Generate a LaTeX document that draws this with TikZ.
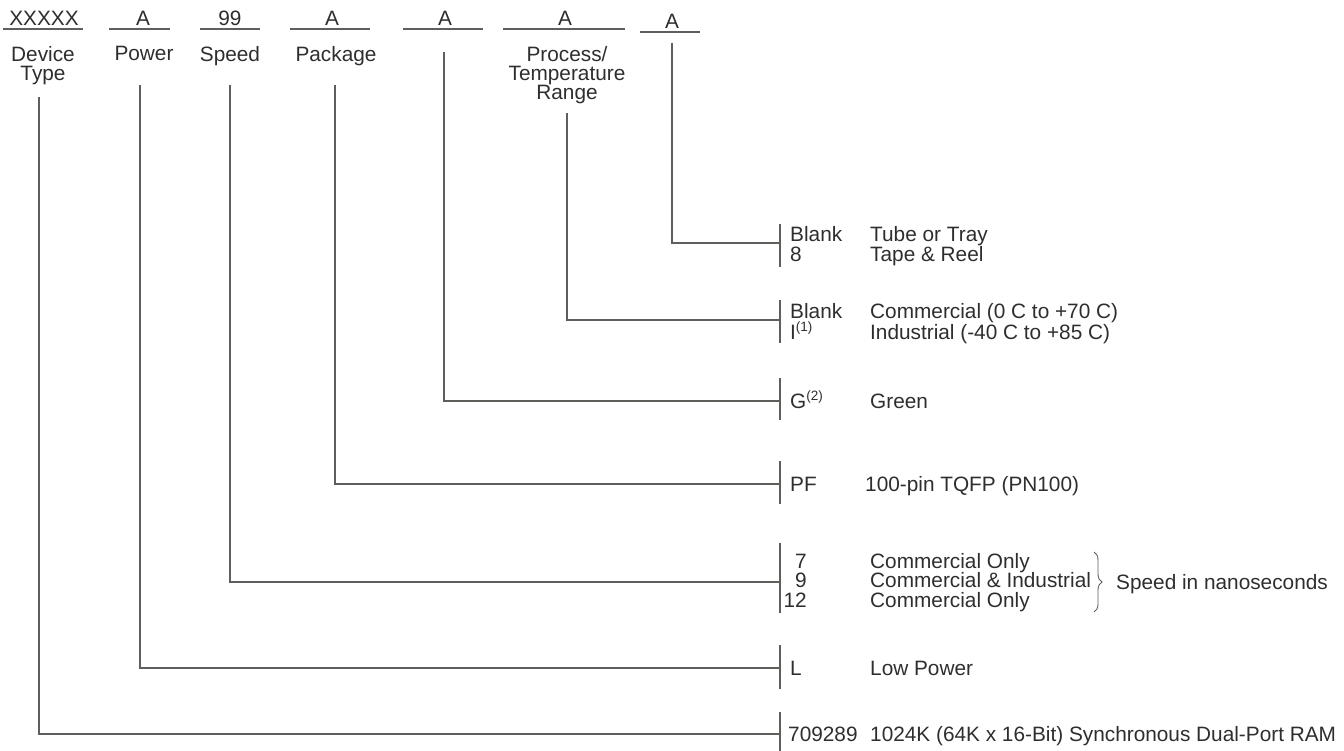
\documentclass[tikz,border=0pt]{standalone}
\usepackage{fontspec}
\setmainfont{Liberation Sans}
\usetikzlibrary{decorations.pathreplacing}
\definecolor{ln}{HTML}{5E5E5A}
\definecolor{tx}{HTML}{2E2E2E}
\tikzset{
  wire/.style={draw=ln, line width=1.3pt},
  lbl/.style={inner sep=0pt, text=tx, font=\fontsize{20.8}{19}\selectfont, anchor=base},
  code/.style={lbl, anchor=base west},
  desc/.style={lbl, anchor=base west},
  toplbl/.style={lbl, align=center, anchor=north},
}
\newcommand{\supn}[1]{\textsuperscript{\fontsize{13.5}{13.5}\selectfont(#1)}}
\begin{document}
\begin{tikzpicture}[x=1pt,y=-1pt]
\useasboundingbox (0,0) rectangle (1344,751);

% top field placeholders
\node[lbl] (fx) at (44,26) {XXXXX};
\node[lbl] (fp) at (143,26) {A};
\node[lbl] (fs) at (230,26) {99};
\node[lbl] (fk) at (332,26) {A};
\node[lbl] (fg) at (445,26) {A};
\node[lbl] (ft) at (565,26) {A};
\node[lbl] (fr) at (672,29) {A};
\draw[wire] (3,29) -- (83,29);
\draw[wire] (109,29) -- (170,29);
\draw[wire] (200,29) -- (260,29);
\draw[wire] (290,29) -- (370,29);
\draw[wire] (403,29) -- (483,29);
\draw[wire] (503,29) -- (625,29);
\draw[wire] (640,32) -- (700,32);

% field labels
\node[toplbl] (ldev) at (43,46) {Device\\Type};
\node[toplbl] (lpow) at (144,46) {Power};
\node[toplbl] (lspd) at (230,46) {Speed};
\node[toplbl] (lpkg) at (336,46) {Package};
\node[toplbl] (lprc) at (567,46) {Process/\\Temperature\\Range};

% start points of the leader lines
\coordinate (sDev) at (39,97);
\coordinate (sPow) at (140,85);
\coordinate (sSpd) at (230,85);
\coordinate (sPkg) at (335,85);
\coordinate (sGrn) at (444,52);
\coordinate (sPrc) at (567,113);
\coordinate (sPak) at (672,43);

% end points on the bars
\coordinate (ePak) at (780,243);
\coordinate (ePrc) at (780,320);
\coordinate (eGrn) at (780,401);
\coordinate (ePkg) at (780,484);
\coordinate (eSpd) at (780,582);
\coordinate (ePow) at (780,668);
\coordinate (eDev) at (780,734);

\draw[wire] (sPak) |- (ePak);
\draw[wire] (sPrc) |- (ePrc);
\draw[wire] (sGrn) |- (eGrn);
\draw[wire] (sPkg) |- (ePkg);
\draw[wire] (sSpd) |- (eSpd);
\draw[wire] (sPow) |- (ePow);
\draw[wire] (sDev) |- (eDev);

% bars
\draw[wire] (780,224) -- (780,267);
\draw[wire] (780,300) -- (780,343);
\draw[wire] (780,378) -- (780,420);
\draw[wire] (780,461) -- (780,504);
\draw[wire] (780,543) -- (780,613);
\draw[wire] (780,645) -- (780,689);
\draw[wire] (780,712) -- (780,751);

% option codes
\node[code] (cB1) at (790,242) {Blank};
\node[code] (c8)  at (790,262) {8};
\node[code] (cB2) at (790,319) {Blank};
\node[code] (cI)  at (790,339) {I\supn{1}};
\node[code] (cG)  at (790,408) {G\supn{2}};
\node[code] (cPF) at (790,491) {PF};
\node[lbl, anchor=base east] (c7)  at (807,568) {7};
\node[lbl, anchor=base east] (c9)  at (807,587) {9};
\node[lbl, anchor=base east] (c12) at (807,607) {12};
\node[code] (cL)  at (790,675) {L};
\node[code] (cD)  at (788,741) {709289};

% descriptions
\node[desc] (dTube) at (870,242) {Tube or Tray};
\node[desc] (dTape) at (870,262) {Tape \& Reel};
\node[desc] (dCom)  at (870,319) {Commercial (0 C to +70 C)};
\node[desc] (dInd)  at (870,339) {Industrial (-40 C to +85 C)};
\node[desc] (dGrn)  at (870,408) {Green};
\node[desc] (dPF)   at (865,491) {100-pin TQFP (PN100)};
\node[desc] (dS7)   at (870,568) {Commercial Only};
\node[desc] (dS9)   at (870,587) {Commercial \& Industrial};
\node[desc] (dS12)  at (870,607) {Commercial Only};
\node[desc] (dL)    at (870,675) {Low Power};
\node[desc] (dD)    at (870,741) {1024K (64K x 16-Bit) Synchronous Dual-Port RAM};

% brace
\coordinate (bTop) at (1094,552);
\coordinate (bBot) at (1094,612);
\draw[draw=ln, line width=0.9pt, decorate, decoration={brace, amplitude=8pt}] (bTop) -- (bBot);
\node[desc] (dSpd) at (1116,589) {Speed in nanoseconds};
\end{tikzpicture}
\end{document}
